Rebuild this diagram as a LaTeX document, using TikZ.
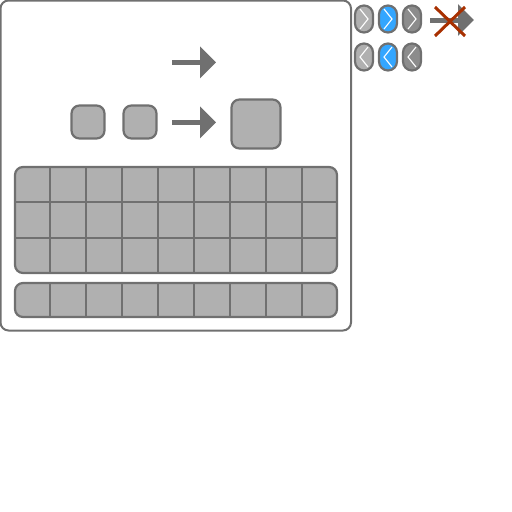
\documentclass[tikz,border=0pt]{standalone}
\usetikzlibrary{arrows.meta, calc, positioning}

\definecolor{edgegray}{HTML}{707070}
\definecolor{cellgray}{HTML}{B0B0B0}
\definecolor{pillblue}{HTML}{33A6FF}
\definecolor{pilldark}{HTML}{8C8C8C}
\definecolor{crossred}{HTML}{A83000}

\tikzset{
	panel/.style	= {draw=edgegray, line width=2pt, rounded corners=8pt, inner sep=0pt, outer sep=0pt},
	block/.style	= {panel, fill=cellgray, line width=2.2pt},
	tile/.style		= {block, minimum size=33pt},
	bigtile/.style	= {block, minimum size=49pt},
	pill/.style		= {block, minimum width=18pt, minimum height=27pt, rounded corners=9pt},
	chev/.style		= {draw=white, line width=1.1pt},
	flow/.style		= {draw=edgegray, line width=5pt, -{Triangle[length=16pt, width=31pt]}},
	strike/.style	= {draw=crossred, line width=3pt},
	rule/.style		= {draw=edgegray, line width=2.2pt}
}

\begin{document}
\begin{tikzpicture}[x=1pt, y=-1pt]
	\useasboundingbox (0,0) rectangle (512,512);

	\node[panel, minimum width=350.5pt, minimum height=330pt] 	(main) 	at (175.75,165.5) 	{};

	% keys
	\node[tile] 	(keyA) 	at (88,122) 	{};
	\node[tile] 	(keyB) 	at (140,122) 	{};
	\node[bigtile] 	(keyC) 	at (256,124) 	{};

	% arrows
	\coordinate (topfrom) 	at (172,62.3);
	\coordinate (topto) 	at (216,62.3);
	\coordinate (midfrom) 	at (172,122.3);
	\coordinate (midto) 	at (216,122.3);
	\draw[flow] (topfrom) -- (topto);
	\draw[flow] (midfrom) -- (midto);

	% big grid
	\node[block, minimum width=322pt, minimum height=106pt] 	(grid) 	at (176,220) 	{};
	\draw[rule] (grid.west |- 0,202) -- (grid.east |- 0,202);
	\draw[rule] (grid.west |- 0,238) -- (grid.east |- 0,238);
	\foreach \x in {50,86,122,158,194,230,266,302}
		\draw[rule] (\x,167) -- (\x,273);

	% bottom row
	\node[block, minimum width=322pt, minimum height=34pt] 		(row) 	at (176,300) 	{};
	\foreach \x in {50,86,122,158,194,230,266,302}
		\draw[rule] (\x,283) -- (\x,317);

	% pills
	\foreach \x/\c/\n in {364/cellgray/A, 388/pillblue/B, 412/pilldark/C} {
		\node[pill, fill=\c] (next\n) at (\x,19) {};
		\draw[chev] ($(next\n)+(-4,-10)$) -- ($(next\n)+(4,0)$) -- ($(next\n)+(-4,10)$);
		\node[pill, fill=\c] (prev\n) at (\x,57) {};
		\draw[chev] ($(prev\n)+(4,-10)$) -- ($(prev\n)+(-4,0)$) -- ($(prev\n)+(4,10)$);
	}

	% struck arrow
	\coordinate (offfrom) 	at (430,20);
	\coordinate (offto) 	at (474,20);
	\draw[flow] (offfrom) -- (offto);
	\coordinate (crossA) 	at (435,7);
	\coordinate (crossB) 	at (465,36);
	\coordinate (crossC) 	at (435,36);
	\coordinate (crossD) 	at (465,7);
	\draw[strike] (crossA) -- (crossB);
	\draw[strike] (crossC) -- (crossD);
\end{tikzpicture}
\end{document}
